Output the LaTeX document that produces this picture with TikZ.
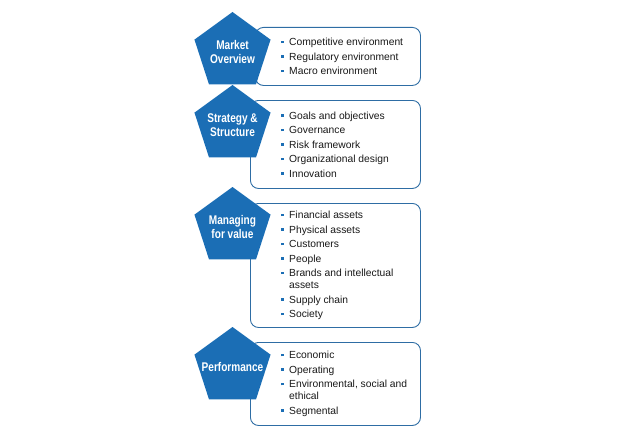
\documentclass[tikz,border=0pt]{standalone}
\usepackage{fontspec}
\setmainfont{Liberation Sans}
\newfontfamily\penfont[FakeStretch=0.8]{Liberation Sans}
\usetikzlibrary{positioning,shapes.geometric}
\definecolor{penblue}{RGB}{27,110,181}
\definecolor{boxblue}{RGB}{46,109,164}
\newcommand{\bul}{\makebox[8pt][l]{\textcolor{penblue}{\rule[2.6pt]{2.5pt}{2.5pt}}}}
\newcommand{\cont}{\hspace*{8pt}}
\tikzstyle{pent}      = [regular polygon, regular polygon sides=5, minimum size=80pt, inner sep=0pt, fill=penblue]
\tikzstyle{pentlabel} = [text=white, font=\penfont\bfseries\fontsize{12.6}{14}\selectfont, align=center, inner sep=0pt]
\tikzstyle{box}       = [draw=boxblue, line width=0.9pt, rounded corners=8pt, rectangle, anchor=north west, fill=white]
\tikzstyle{items}     = [align=left, font=\fontsize{10.3}{14.5}\selectfont, text=black!90, inner sep=0pt]

\begin{document}
\begin{tikzpicture}[x=1pt, y=-1pt]

    \useasboundingbox (0,0) rectangle (628,444);

    % boxes with the lists
    \node[box, minimum width=165pt, minimum height=58pt ] (b1) at (255,27)  {};
    \node[box, minimum width=170pt, minimum height=88pt ] (b2) at (250,100) {};
    \node[box, minimum width=170pt, minimum height=124pt] (b3) at (250,203) {};
    \node[box, minimum width=170pt, minimum height=83pt ] (b4) at (250,342) {};

    \node[items, right=26pt of b1.west] (l1) {\bul Competitive environment\\ \bul Regulatory environment\\ \bul Macro environment};
    \node[items, right=31pt of b2.west] (l2) {\bul Goals and objectives\\ \bul Governance\\ \bul Risk framework\\ \bul Organizational design\\ \bul Innovation};
    \node[items, right=31pt of b3.west] (l3) {\bul Financial assets\\ \bul Physical assets\\ \bul Customers\\ \bul People\\ \bul Brands and intellectual\\[-2.5pt] \cont assets\\ \bul Supply chain\\ \bul Society};
    \node[items, right=31pt of b4.west] (l4) {\bul Economic\\ \bul Operating\\ \bul Environmental, social and\\[-2.5pt] \cont ethical\\ \bul Segmental};

    % pentagons on top
    \node[pent] (p1) at (232.5,52)  {};
    \node[pent] (p2) at (232.5,125) {};
    \node[pent] (p3) at (232.5,227) {};
    \node[pent] (p4) at (232.5,367) {};

    \node[pentlabel] (t1) at (p1.center) {Market\\Overview};
    \node[pentlabel] (t2) at (p2.center) {Strategy \&\\Structure};
    \node[pentlabel] (t3) at (p3.center) {Managing\\for value};
    \node[pentlabel] (t4) at (p4.center) {Performance};

\end{tikzpicture}
\end{document}
